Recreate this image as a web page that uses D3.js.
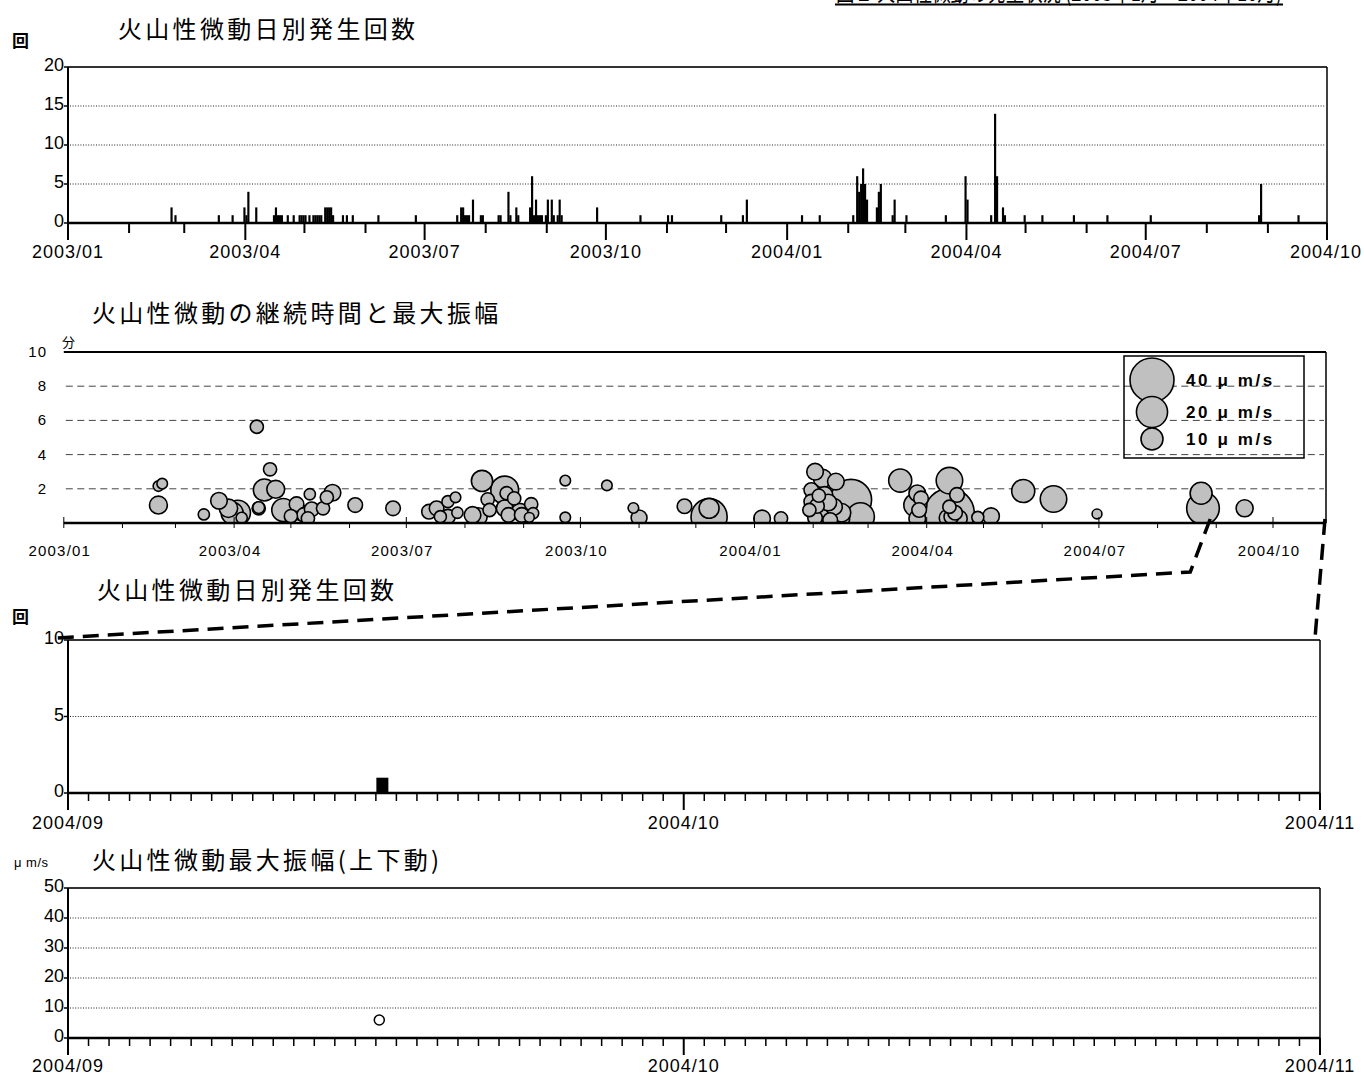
<!DOCTYPE html>
<html><head><meta charset="utf-8">
<script src="https://cdn.jsdelivr.net/npm/d3@7"></script>
<style>
html,body{margin:0;padding:0;background:#fff;}
svg{display:block;}
</style></head><body>
<svg id="c" width="1364" height="1077"></svg>
<script>
// ---------------- DATA ----------------
const titles = ["火山性微動日別発生回数","火山性微動の継続時間と最大振幅","火山性微動日別発生回数","火山性微動最大振幅(上下動)"];
const headerText = "図２ 火山性微動の発生状況 (2003年1月～2004年10月)";

// chart 1: daily counts 2003/01 - 2004/10
const countDates = ["2003-02-22","2003-02-24","2003-03-18","2003-03-25","2003-03-31","2003-04-01","2003-04-02","2003-04-06","2003-04-15","2003-04-16","2003-04-17","2003-04-18","2003-04-19","2003-04-22","2003-04-25","2003-04-28","2003-04-29","2003-04-30","2003-05-01","2003-05-03","2003-05-05","2003-05-06","2003-05-07","2003-05-08","2003-05-09","2003-05-11","2003-05-12","2003-05-13","2003-05-14","2003-05-15","2003-05-20","2003-05-22","2003-05-25","2003-06-07","2003-06-26","2003-07-17","2003-07-19","2003-07-20","2003-07-21","2003-07-22","2003-07-23","2003-07-25","2003-07-29","2003-07-30","2003-08-07","2003-08-08","2003-08-12","2003-08-13","2003-08-16","2003-08-17","2003-08-23","2003-08-24","2003-08-25","2003-08-26","2003-08-27","2003-08-28","2003-08-29","2003-08-31","2003-09-01","2003-09-03","2003-09-04","2003-09-06","2003-09-07","2003-09-08","2003-09-26","2003-10-18","2003-11-01","2003-11-03","2003-11-28","2003-12-09","2003-12-11","2004-01-08","2004-01-17","2004-02-03","2004-02-05","2004-02-06","2004-02-07","2004-02-08","2004-02-09","2004-02-10","2004-02-15","2004-02-16","2004-02-17","2004-02-23","2004-02-24","2004-03-01","2004-03-21","2004-03-31","2004-04-01","2004-04-13","2004-04-15","2004-04-16","2004-04-19","2004-04-20","2004-04-30","2004-05-09","2004-05-25","2004-06-11","2004-07-03","2004-08-27","2004-08-28","2004-09-16"];
const countValues = [2,1,1,1,2,1,4,2,1,2,1,1,1,1,1,1,1,1,1,1,1,1,1,1,1,2,2,2,2,1,1,1,1,1,1,1,2,2,1,1,1,3,1,1,1,1,4,1,2,1,2,6,1,3,1,1,1,1,3,3,1,1,3,1,2,1,1,1,1,1,3,1,1,1,6,4,5,7,5,3,2,4,5,1,3,1,1,6,3,1,14,6,2,1,1,1,1,1,1,1,5,1];
const countTicks1 = [0,5,10,15,20];

// chart 2: duration (minutes) and maximum amplitude (um/s)
const bubbleDates = ["2003-02-20","2003-02-20","2003-02-22","2003-03-16","2003-03-24","2003-03-29","2003-03-31","2003-04-03","2003-04-05","2003-04-13","2003-04-14","2003-04-14","2003-04-20","2003-04-17","2003-04-23","2003-04-27","2003-05-01","2003-05-04","2003-05-05","2003-05-08","2003-05-10","2003-05-11","2003-05-12","2003-05-18","2003-05-20","2003-05-23","2003-06-04","2003-06-24","2003-07-13","2003-07-17","2003-07-19","2003-07-23","2003-07-23","2003-07-27","2003-07-28","2003-08-05","2003-08-08","2003-08-10","2003-08-13","2003-08-14","2003-08-22","2003-08-22","2003-08-23","2003-08-27","2003-08-24","2003-08-30","2003-08-31","2003-09-05","2003-09-06","2003-09-04","2003-09-23","2003-09-23","2003-10-15","2003-10-29","2003-11-01","2003-11-25","2003-12-08","2003-12-08","2004-01-05","2004-01-15",
"2004-02-02","2004-02-06","2004-01-31","2004-01-31","2004-01-30","2004-02-02","2004-02-05","2004-02-07","2004-02-08","2004-02-13","2004-02-12","2004-02-21","2004-02-26","2004-02-15","2004-02-10","2004-02-02","2004-02-03","2004-02-04","2004-02-09","2004-02-16",
"2004-03-18","2004-03-27","2004-03-29","2004-03-26","2004-03-28","2004-03-27","2004-04-13","2004-04-13","2004-04-17","2004-04-13","2004-04-14","2004-04-18","2004-04-12","2004-04-16","2004-04-28","2004-05-05","2004-05-22","2004-06-07","2004-06-30","2004-08-24","2004-08-25","2004-09-16"];
const bubbleMinutes = [1.05,2.16,2.3,0.5,1.3,0.86,0.57,0.6,0.3,5.63,0.86,0.9,3.14,1.93,1.97,0.76,0.4,1.1,0.66,0.47,0.27,1.68,0.8,0.86,1.5,1.77,1.05,0.86,0.66,0.86,0.37,1.25,0.37,1.5,0.6,0.47,0.37,2.46,1.38,0.76,1.93,0.86,1.74,1.44,0.47,0.66,0.47,1.1,0.57,0.33,2.48,0.33,2.2,0.88,0.3,0.98,0.37,0.86,0.27,0.27,
3.0,2.6,1.93,1.25,0.76,1.44,0.86,1.64,0.57,2.42,0.95,1.35,0.37,0.27,0.17,0.3,1.0,1.6,1.2,0.6,
2.48,1.74,1.44,1.05,0.76,0.27,2.48,0.57,1.64,0.95,0.37,0.27,0.3,0.6,0.33,0.4,1.87,1.4,0.53,1.74,0.86,0.86];
const bubbleAmplitudes = [6.6,2.3,2.3,2.6,5.7,7,10,13,2.6,3.6,3.6,2.8,3.6,10,6.6,11,3.6,4.4,5.7,4.4,3.6,2.6,4.4,3.6,3.6,5.7,4.4,4.4,4.4,4.4,3,3,4.4,2.3,2.6,5.7,6.6,9.3,3.6,3.6,16,5.7,3.6,3.6,4.4,5.7,4.4,3.6,2.6,2,2.3,2.3,2.3,2.3,5.2,4.4,27,8.2,5.7,3.6,
5.7,7,4.4,4.4,3.6,7,8.2,5.7,5.7,5.7,5.7,35,16,8.2,4.4,4.4,4.4,3.6,5.7,7,
11,5.7,4.4,11,4.4,5.7,14.5,51,4.4,3.6,4.4,5.7,5.7,4.4,3,5.7,11,14.5,2,10,22,6];
const minuteTicks = [2,4,6,8,10];
const legendAmplitudes = [40,20,10];
const legendLabels = ["40 μ m/s","20 μ m/s","10 μ m/s"];

// chart 3: daily counts 2004/09 - 2004/10
const zoomCountDates = ["2004-09-16"];
const zoomCountValues = [1];
const countTicks3 = [0,5,10];

// chart 4: maximum amplitude (vertical) 2004/09 - 2004/10
const zoomAmpDates = ["2004-09-16T04:00"];
const zoomAmpValues = [6];
const ampTicks = [0,10,20,30,40,50];

// ---------------- HELPERS ----------------
const pd = d3.timeParse("%Y-%m-%d");
const pdt = d3.timeParse("%Y-%m-%dT%H:%M");
const fmt = d3.timeFormat("%Y/%m");
const svg = d3.select("#c");
const CJK = '"Noto Sans CJK JP","Noto Sans CJK SC",sans-serif';
const BMP = '"Liberation Sans",Arial,sans-serif';
const ARIAL = '"Liberation Sans",Arial,sans-serif';

function title(t, x, y){
  svg.append("text").attr("x",x).attr("y",y).text(t)
    .style("font-family",CJK).style("font-size","24px").style("letter-spacing","3.3px").attr("fill","#000");
}
function yLabels(g, scale, ticks, x){
  g.selectAll(null).data(ticks).join("text")
    .attr("x",x).attr("y",d=>scale(d)+4).attr("text-anchor","end").text(d=>d)
    .style("font-family",BMP).style("font-size","18px");
}
function grid(g, scale, ticks, x0, x1, dash, color){
  g.selectAll(null).data(ticks).join("line")
    .attr("x1",x0+2).attr("x2",x1-2).attr("y1",d=>scale(d)).attr("y2",d=>scale(d))
    .attr("stroke",color).attr("stroke-width",1).attr("stroke-dasharray",dash);
}

// header (clipped at top, as in the source)
svg.append("text").attr("x",836).attr("y",1).text(headerText)
  .attr("textLength",446).attr("lengthAdjust","spacingAndGlyphs")
  .style("font-family",CJK).style("font-size","24px");
svg.append("line").attr("x1",835).attr("x2",1283).attr("y1",4.5).attr("y2",4.5).attr("stroke","#000").attr("stroke-width",2);

// ================= CHART 1 =================
{
  const x = d3.scaleTime().domain([new Date(2003,0,1), new Date(2004,9,1)]).range([68,1327]);
  const y = d3.scaleLinear().domain([0,20]).range([223,67]);
  const g = svg.append("g");
  title(titles[0], 118, 38);
  g.append("text").attr("x",12).attr("y",47).text("回").style("font-family",CJK).style("font-size","17px").style("font-weight","bold");
  grid(g, y, countTicks1.filter(d=>d>0&&d<20), 68, 1327, "1,1.6", "#222");
  g.append("line").attr("x1",68).attr("x2",1327).attr("y1",y(20)).attr("y2",y(20)).attr("stroke","#333").attr("stroke-width",2);
  g.append("line").attr("x1",1327).attr("x2",1327).attr("y1",y(20)).attr("y2",y(0)).attr("stroke","#000").attr("stroke-width",1.5);
  g.append("line").attr("x1",68).attr("x2",68).attr("y1",y(20)).attr("y2",y(0)).attr("stroke","#000").attr("stroke-width",2);
  g.selectAll(null).data(countTicks1).join("line").attr("x1",64).attr("x2",68).attr("y1",d=>y(d)).attr("y2",d=>y(d)).attr("stroke","#000").attr("stroke-width",1.5);
  g.selectAll(null).data(countDates.map((d,i)=>({d:pd(d),v:countValues[i]}))).join("rect")
    .attr("x",d=>x(d.d)).attr("width",d=>x(d3.timeDay.offset(d.d,1))-x(d.d)+0.2)
    .attr("y",d=>y(d.v)).attr("height",d=>y(0)-y(d.v)).attr("fill","#000");
  g.append("line").attr("x1",68).attr("x2",1327).attr("y1",y(0)).attr("y2",y(0)).attr("stroke","#000").attr("stroke-width",2.5);
  const months = d3.timeMonth.range(new Date(2003,0,1), new Date(2004,9,2));
  g.selectAll(null).data(months).join("line")
    .attr("x1",d=>x(d)).attr("x2",d=>x(d)).attr("y1",y(0)).attr("y2",d=>y(0)+(d.getMonth()%3===0?17:10))
    .attr("stroke","#000").attr("stroke-width",2);
  g.selectAll(null).data(months.filter(d=>d.getMonth()%3===0)).join("text")
    .attr("x",d=>Math.min(x(d), 1326)).attr("y",258).attr("text-anchor","middle").text(d=>fmt(d))
    .style("font-family",BMP).style("font-size","18px").style("letter-spacing","1px");
  yLabels(g, y, countTicks1, 64);
}

// ================= CHART 2 =================
const x2 = d3.scaleTime().domain([new Date(2003,0,1), new Date(2004,9,29)]).range([63.8,1326]);
const y2 = d3.scaleLinear().domain([0,10]).range([523,352]);
{
  const r = d3.scaleSqrt().domain([0,40]).range([0,22]);
  const g = svg.append("g");
  title(titles[1], 92, 322);
  g.append("text").attr("x",62).attr("y",347).text("分").style("font-family",CJK).style("font-size","13px");
  grid(g, y2, minuteTicks.filter(d=>d<10), 63.8, 1326, "7,4.5", "#444");
  g.append("line").attr("x1",63.8).attr("x2",1326).attr("y1",y2(10)).attr("y2",y2(10)).attr("stroke","#000").attr("stroke-width",2);
  g.append("line").attr("x1",1326).attr("x2",1326).attr("y1",y2(10)).attr("y2",y2(0)).attr("stroke","#000").attr("stroke-width",1.5);
  svg.append("clipPath").attr("id","clip2").append("rect").attr("x",63.8).attr("y",y2(10)).attr("width",1326-63.8).attr("height",y2(0)-y2(10));
  const data = bubbleDates.map((d,i)=>({d:pd(d),m:bubbleMinutes[i],a:bubbleAmplitudes[i]}))
    .sort((a,b)=>b.a-a.a);
  g.append("g").attr("clip-path","url(#clip2)").selectAll("circle").data(data).join("circle")
    .attr("cx",d=>x2(d.d)).attr("cy",d=>y2(d.m)).attr("r",d=>r(d.a))
    .attr("fill","#c0c0c0").attr("stroke","#000").attr("stroke-width",1.6);
  g.append("line").attr("x1",63.8).attr("x2",1326).attr("y1",y2(0)).attr("y2",y2(0)).attr("stroke","#000").attr("stroke-width",2.5);
  const months = d3.timeMonth.range(new Date(2003,0,1), new Date(2004,9,2));
  g.selectAll(null).data(months).join("line")
    .attr("x1",d=>x2(d)).attr("x2",d=>x2(d)).attr("y1",d=>y2(0)-(d.getMonth()%3===0?6:0)).attr("y2",y2(0)+5)
    .attr("stroke","#000").attr("stroke-width",1);
  g.selectAll(null).data(months.filter(d=>d.getMonth()%3===0)).join("text")
    .attr("x",d=>x2(d)-4).attr("y",556).attr("text-anchor","middle").text(d=>fmt(d))
    .style("font-family",ARIAL).style("font-size","15px").style("letter-spacing","1.2px");
  g.selectAll(null).data(minuteTicks).join("text")
    .attr("x",47).attr("y",d=>y2(d)+5).attr("text-anchor","end").text(d=>d)
    .style("font-family",ARIAL).style("font-size","15px").style("letter-spacing","1px");
  const lg = g.append("g");
  lg.append("rect").attr("x",1124).attr("y",356).attr("width",180).attr("height",102)
    .attr("fill","none").attr("stroke","#000").attr("stroke-width",1.5);
  const ly = [380,412,439];
  lg.selectAll("circle").data(legendAmplitudes).join("circle")
    .attr("cx",1152).attr("cy",(d,i)=>ly[i]).attr("r",d=>r(d))
    .attr("fill","#c0c0c0").attr("stroke","#000").attr("stroke-width",1.6);
  lg.selectAll("text").data(legendLabels).join("text")
    .attr("x",1186).attr("y",(d,i)=>ly[i]+6).text(d=>d)
    .style("font-family",ARIAL).style("font-size","17px").style("font-weight","bold").style("letter-spacing","2.6px");
}

// ================= CHART 3 =================
const x3 = d3.scaleTime().domain([new Date(2004,8,1), new Date(2004,10,1)]).range([68,1320]);
{
  const y = d3.scaleLinear().domain([0,10]).range([793,640]);
  const g = svg.append("g");
  title(titles[2], 97, 599);
  g.append("text").attr("x",12).attr("y",623).text("回").style("font-family",CJK).style("font-size","17px").style("font-weight","bold");
  grid(g, y, [5], 68, 1320, "1,1.6", "#222");
  g.append("line").attr("x1",68).attr("x2",1320).attr("y1",y(10)).attr("y2",y(10)).attr("stroke","#333").attr("stroke-width",2);
  g.append("line").attr("x1",1320).attr("x2",1320).attr("y1",y(10)).attr("y2",y(0)).attr("stroke","#000").attr("stroke-width",1.5);
  g.append("line").attr("x1",68).attr("x2",68).attr("y1",y(10)).attr("y2",y(0)).attr("stroke","#000").attr("stroke-width",2);
  g.selectAll(null).data(countTicks3).join("line").attr("x1",64).attr("x2",68).attr("y1",d=>y(d)).attr("y2",d=>y(d)).attr("stroke","#000").attr("stroke-width",1.5);
  g.selectAll(null).data(zoomCountDates.map((d,i)=>({d:pd(d),v:zoomCountValues[i]}))).join("rect")
    .attr("x",d=>x3(d.d)+0.5).attr("width",12).attr("y",d=>y(d.v)).attr("height",d=>y(0)-y(d.v)).attr("fill","#000");
  g.append("line").attr("x1",68).attr("x2",1320).attr("y1",y(0)).attr("y2",y(0)).attr("stroke","#000").attr("stroke-width",2.5);
  const days = d3.timeDay.range(new Date(2004,8,1), new Date(2004,10,2));
  g.selectAll(null).data(days).join("line")
    .attr("x1",d=>x3(d)).attr("x2",d=>x3(d)).attr("y1",y(0)).attr("y2",d=>y(0)+(d.getDate()===1?17:8))
    .attr("stroke","#000").attr("stroke-width",d=>d.getDate()===1?2:1.5);
  g.selectAll(null).data(days.filter(d=>d.getDate()===1)).join("text")
    .attr("x",d=>Math.min(x3(d), 1322)).attr("y",829).attr("text-anchor","middle").text(d=>fmt(d))
    .style("font-family",BMP).style("font-size","18px").style("letter-spacing","1px");
  yLabels(g, y, countTicks3, 64);
}

// ================= CHART 4 =================
{
  const y = d3.scaleLinear().domain([0,50]).range([1038,888]);
  const g = svg.append("g");
  title(titles[3], 92, 869);
  g.append("text").attr("x",14).attr("y",867).text("μ m/s").style("font-family",ARIAL).style("font-size","13px").style("letter-spacing","0.5px");
  grid(g, y, ampTicks.filter(d=>d>0&&d<50), 68, 1320, "1,1.6", "#222");
  g.append("line").attr("x1",68).attr("x2",1320).attr("y1",y(50)).attr("y2",y(50)).attr("stroke","#333").attr("stroke-width",2);
  g.append("line").attr("x1",1320).attr("x2",1320).attr("y1",y(50)).attr("y2",y(0)).attr("stroke","#000").attr("stroke-width",1.5);
  g.append("line").attr("x1",68).attr("x2",68).attr("y1",y(50)).attr("y2",y(0)).attr("stroke","#000").attr("stroke-width",2);
  g.selectAll(null).data(ampTicks).join("line").attr("x1",64).attr("x2",68).attr("y1",d=>y(d)).attr("y2",d=>y(d)).attr("stroke","#000").attr("stroke-width",1.5);
  g.selectAll(null).data(zoomAmpDates.map((d,i)=>({d:pdt(d),v:zoomAmpValues[i]}))).join("circle")
    .attr("cx",d=>x3(d.d)).attr("cy",d=>y(d.v)).attr("r",5)
    .attr("fill","#fff").attr("stroke","#000").attr("stroke-width",1.5);
  g.append("line").attr("x1",68).attr("x2",1320).attr("y1",y(0)).attr("y2",y(0)).attr("stroke","#000").attr("stroke-width",2.5);
  const days = d3.timeDay.range(new Date(2004,8,1), new Date(2004,10,2));
  g.selectAll(null).data(days).join("line")
    .attr("x1",d=>x3(d)).attr("x2",d=>x3(d)).attr("y1",y(0)).attr("y2",d=>y(0)+(d.getDate()===1?17:8))
    .attr("stroke","#000").attr("stroke-width",d=>d.getDate()===1?2:1.5);
  g.selectAll(null).data(days.filter(d=>d.getDate()===1)).join("text")
    .attr("x",d=>Math.min(x3(d), 1322)).attr("y",1072).attr("text-anchor","middle").text(d=>fmt(d))
    .style("font-family",BMP).style("font-size","18px").style("letter-spacing","1px");
  yLabels(g, y, ampTicks, 64);
}

// ================= ZOOM CALLOUT =================
{
  const sx = x2(new Date(2004,8,1)) - 6, sy = y2(0) - 4;
  const ex = x3(new Date(2004,8,1)) - 12, ey = 638;
  const rx0 = x2.range()[1] - 1, rx1 = x3(new Date(2004,10,1)) - 5;
  const line = d3.line();
  svg.append("path").attr("d", line([[sx,sy],[sx-20,572],[ex,ey]]))
    .attr("fill","none").attr("stroke","#000").attr("stroke-width",3.5).attr("stroke-dasharray","16,9");
  svg.append("path").attr("d", line([[rx0,sy],[rx1,ey]]))
    .attr("fill","none").attr("stroke","#000").attr("stroke-width",3.5).attr("stroke-dasharray","16,9");
}
</script>
</body></html>
